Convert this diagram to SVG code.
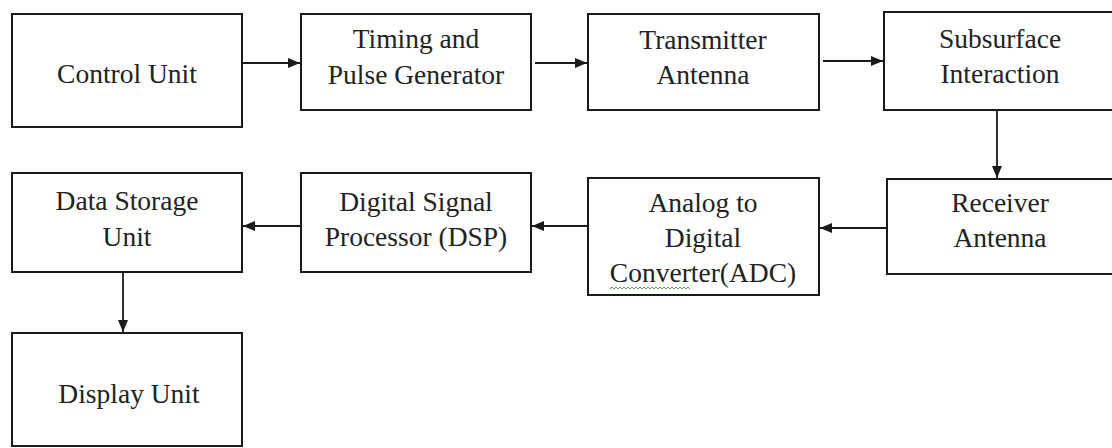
<svg xmlns="http://www.w3.org/2000/svg" width="1112" height="448" viewBox="0 0 1112 448">
<style>
.box{fill:#fff;stroke:#1a1a1a;stroke-width:2}
.t{font-size:27.5px;fill:#222;text-anchor:middle}
.c{stroke:#1a1a1a;stroke-width:1.8;fill:none;marker-end:url(#ah)}
</style>
<defs>
<marker id="ah" viewBox="0 0 12 10" refX="12" refY="5" markerWidth="12" markerHeight="10" markerUnits="userSpaceOnUse" orient="auto">
<path d="M0,0 L12,5 L0,10 z" fill="#1a1a1a"/>
</marker>
</defs>
<rect width="1112" height="448" fill="#fff"/>
<g font-family="Liberation Serif, Times New Roman, DejaVu Serif, serif">
<g id="control-unit"><rect class="box" x="12" y="14" width="230" height="113"/><text class="t" x="127" y="83">Control Unit</text></g>
<g id="timing-pulse"><rect class="box" x="301" y="14" width="230" height="96"/><text class="t" x="416" y="48">Timing and</text><text class="t" x="416" y="84">Pulse Generator</text></g>
<g id="transmitter"><rect class="box" x="588" y="14" width="231" height="96"/><text class="t" x="703" y="49">Transmitter</text><text class="t" x="703" y="84">Antenna</text></g>
<g id="subsurface"><rect class="box" x="884" y="12" width="240" height="98"/><text class="t" x="1000" y="48">Subsurface</text><text class="t" x="1000" y="83">Interaction</text></g>
<g id="receiver"><rect class="box" x="887" y="179" width="240" height="95"/><text class="t" x="1000" y="212">Receiver</text><text class="t" x="1000" y="247">Antenna</text></g>
<g id="adc"><rect class="box" x="588" y="178" width="231" height="117"/><text class="t" x="703" y="212">Analog to</text><text class="t" x="703" y="247">Digital</text><text class="t" x="703" y="282">Converter(ADC)</text><path d="M610,289 l2,-2 l2,2 l2,-2 l2,2 l2,-2 l2,2 l2,-2 l2,2 l2,-2 l2,2 l2,-2 l2,2 l2,-2 l2,2 l2,-2 l2,2 l2,-2 l2,2 l2,-2 l2,2 l2,-2 l2,2 l2,-2 l2,2 l2,-2 l2,2 l2,-2 l2,2 l2,-2 l2,2 l2,-2 l2,2 l2,-2 l2,2 l2,-2 l2,2 l2,-2 l2,2 l2,-2 l2,2" fill="none" stroke="#5aa05a" stroke-width="1"/></g>
<g id="dsp"><rect class="box" x="301" y="173" width="230" height="99"/><text class="t" x="416" y="211">Digital Signal</text><text class="t" x="416" y="246">Processor (DSP)</text></g>
<g id="data-storage"><rect class="box" x="12" y="173" width="230" height="99"/><text class="t" x="127" y="210">Data Storage</text><text class="t" x="127" y="246">Unit</text></g>
<g id="display"><rect class="box" x="12" y="333" width="230" height="113"/><text class="t" x="129" y="403">Display Unit</text></g>
</g>
<g id="connectors">
<line class="c" x1="242" y1="63" x2="300" y2="63"/>
<line class="c" x1="535" y1="63" x2="587" y2="63"/>
<line class="c" x1="823" y1="61" x2="883" y2="61"/>
<line class="c" x1="997" y1="110" x2="997" y2="178"/>
<line class="c" x1="886" y1="228" x2="820" y2="228"/>
<line class="c" x1="587" y1="226" x2="532" y2="226"/>
<line class="c" x1="300" y1="226" x2="243" y2="226"/>
<line class="c" x1="123" y1="272" x2="123" y2="332"/>
</g>
</svg>
